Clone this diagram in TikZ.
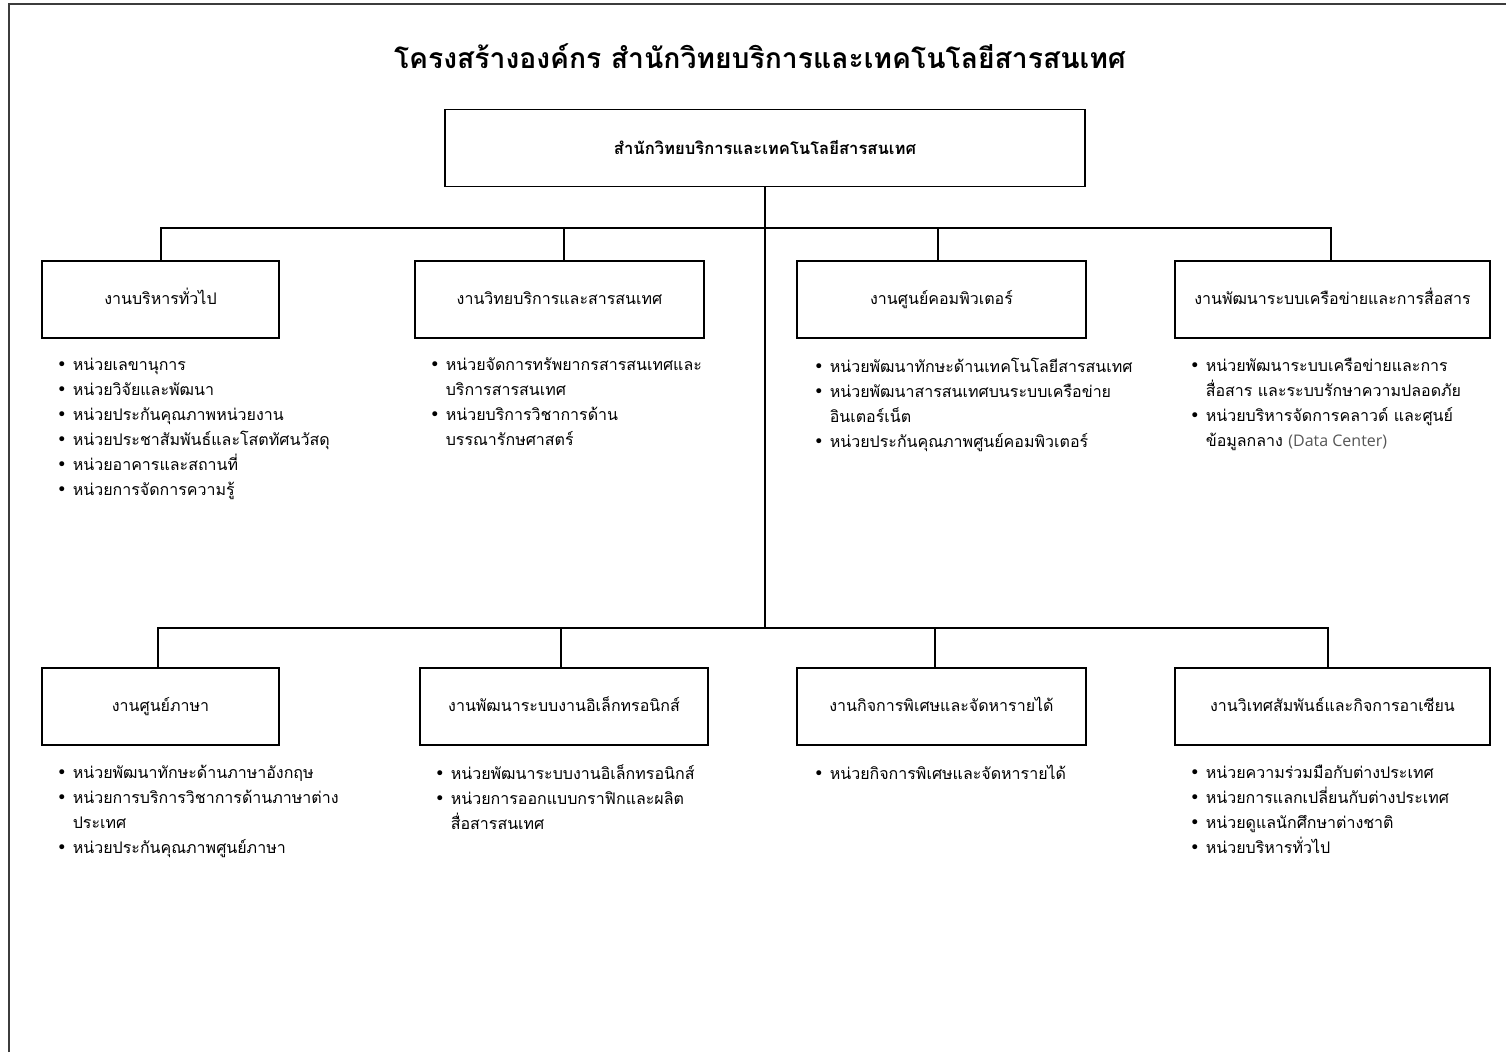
\documentclass[tikz,border=0pt]{standalone}
\usepackage{fontspec}
\setmainfont[Script=Thai]{Loma}
\newfontfamily\latinfont{Open Sans}
\newfontfamily\dotfont{DejaVu Sans}
\definecolor{framegray}{RGB}{60,60,60}
\definecolor{datagray}{RGB}{85,85,85}
\newcommand{\bul}{\makebox[16pt][l]{\dotfont\fontsize{17}{17}\selectfont •}}
\newcommand{\cnt}{\makebox[16pt]{}}

\begin{document}
\begin{tikzpicture}[
     x = 1pt,
     y = -1pt,
     line width = 1.6pt
    ]
    \tikzstyle{office}=[draw, minimum width=640pt, minimum height=77pt,
      inner sep=0pt, font={\bfseries\fontsize{16.6}{20}\selectfont}]
    \tikzstyle{section}=[draw, minimum height=77pt, inner sep=0pt,
      text height=13pt, text depth=3pt,
      font={\fontsize{16}{20}\selectfont}]
    \tikzstyle{unitlist}=[anchor=north west, inner sep=0pt, align=left,
      font={\fontsize{16}{25}\selectfont}]
    \tikzstyle{branch}=[line width=1.6pt]

    \useasboundingbox (0,0) rectangle (1506,1052);
    \draw[framegray, line width=2pt] (9,1052) -- (9,4) -- (1506,4);

    \node[font={\bfseries\fontsize{28.3}{32}\selectfont}] (title) at (760,56)
      {โครงสร้างองค์กร สำนักวิทยบริการและเทคโนโลยีสารสนเทศ};

    \node[office] (office) at (765,148) {สำนักวิทยบริการและเทคโนโลยีสารสนเทศ};

    % upper sections
    \node[section, minimum width=237pt] (admin) at (160.5,299.5) {งานบริหารทั่วไป};
    \node[section, minimum width=289pt] (library) at (559.5,299.5) {งานวิทยบริการและสารสนเทศ};
    \node[section, minimum width=289pt] (computer) at (941.5,299.5) {งานศูนย์คอมพิวเตอร์};
    \node[section, minimum width=315pt] (network) at (1332.5,299.5) {งานพัฒนาระบบเครือข่ายและการสื่อสาร};

    % lower sections
    \node[section, minimum width=237pt] (language) at (160.5,706.5) {งานศูนย์ภาษา};
    \node[section, minimum width=288pt] (elec) at (564,706.5) {งานพัฒนาระบบงานอิเล็กทรอนิกส์};
    \node[section, minimum width=289pt] (special) at (941.5,706.5) {งานกิจการพิเศษและจัดหารายได้};
    \node[section, minimum width=315pt] (foreign) at (1332.5,706.5) {งานวิเทศสัมพันธ์และกิจการอาเซียน};

    % connectors
    \coordinate (hubup) at (765,228);
    \coordinate (hubdown) at (765,628);
    \draw[branch] (office.south) -- (hubdown);
    \foreach \s/\dx in {admin/0.5,library/4.5,computer/-3.5,network/-1.5}
      \draw[branch] (hubup) -| ([xshift=\dx pt]\s.north);
    \foreach \s/\dx in {language/-2.5,elec/-3,special/-6.5,foreign/-4.5}
      \draw[branch] (hubdown) -| ([xshift=\dx pt]\s.north);

    % unit lists
    \node[unitlist] (adminunits) at (56,357) {%
      \bul หน่วยเลขานุการ\\
      \bul หน่วยวิจัยและพัฒนา\\
      \bul หน่วยประกันคุณภาพหน่วยงาน\\
      \bul หน่วยประชาสัมพันธ์และโสตทัศนวัสดุ\\
      \bul หน่วยอาคารและสถานที่\\
      \bul หน่วยการจัดการความรู้};
    \node[unitlist] (libraryunits) at (429,357) {%
      \bul หน่วยจัดการทรัพยากรสารสนเทศและ\\
      \cnt บริการสารสนเทศ\\
      \bul หน่วยบริการวิชาการด้าน\\
      \cnt บรรณารักษศาสตร์};
    \node[unitlist] (computerunits) at (813,357) {%
      \bul หน่วยพัฒนาทักษะด้านเทคโนโลยีสารสนเทศ\\
      \bul หน่วยพัฒนาสารสนเทศบนระบบเครือข่าย\\
      \cnt อินเตอร์เน็ต\\
      \bul หน่วยประกันคุณภาพศูนย์คอมพิวเตอร์};
    \node[unitlist] (networkunits) at (1189,357) {%
      \bul หน่วยพัฒนาระบบเครือข่ายและการ\\
      \cnt สื่อสาร และระบบรักษาความปลอดภัย\\
      \bul หน่วยบริหารจัดการคลาวด์ และศูนย์\\
      \cnt ข้อมูลกลาง {\latinfont\color{datagray}(Data Center)}};

    \node[unitlist] (languageunits) at (56,764) {%
      \bul หน่วยพัฒนาทักษะด้านภาษาอังกฤษ\\
      \bul หน่วยการบริการวิชาการด้านภาษาต่าง\\
      \cnt ประเทศ\\
      \bul หน่วยประกันคุณภาพศูนย์ภาษา};
    \node[unitlist] (elecunits) at (434,764) {%
      \bul หน่วยพัฒนาระบบงานอิเล็กทรอนิกส์\\
      \bul หน่วยการออกแบบกราฟิกและผลิต\\
      \cnt สื่อสารสนเทศ};
    \node[unitlist] (specialunits) at (813,764) {%
      \bul หน่วยกิจการพิเศษและจัดหารายได้};
    \node[unitlist] (foreignunits) at (1189,764) {%
      \bul หน่วยความร่วมมือกับต่างประเทศ\\
      \bul หน่วยการแลกเปลี่ยนกับต่างประเทศ\\
      \bul หน่วยดูแลนักศึกษาต่างชาติ\\
      \bul หน่วยบริหารทั่วไป};
\end{tikzpicture}
\end{document}
